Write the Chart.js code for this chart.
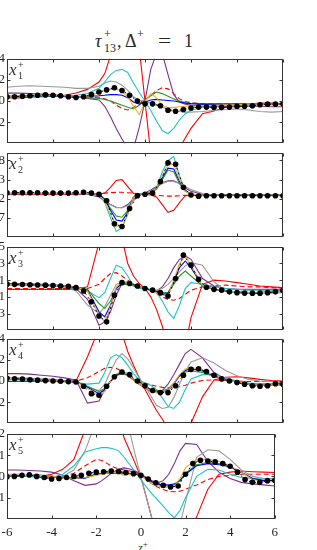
<!DOCTYPE html>
<html>
<head>
<meta charset="utf-8">
<script src="https://cdn.jsdelivr.net/npm/chart.js@4.4.0/dist/chart.umd.min.js"></script>
<style>
html, body { margin: 0; padding: 0; background: #fff; overflow: hidden; width: 317px; height: 550px; }
body { position: relative; font-family: 'Liberation Serif', serif; color: #262626; }
canvas { position: absolute; }
.t { position: absolute; white-space: nowrap; font-family: 'Liberation Serif', serif; color: #262626; }
.big { font-size: 18px; line-height: 18px; top: 32px; }
.sm { font-size: 12px; line-height: 12px; }
#zlabel { position: absolute; left: 138px; top: 538px; font: italic 12px 'Liberation Serif'; line-height: 12px; color: #333; }
</style>
</head>
<body>
<span class="t big" style="left:95px;font-style:italic">τ</span>
<span class="t sm" style="left:104px;top:28px">+</span>
<span class="t sm" style="left:104px;top:42px">13</span>
<span class="t big" style="left:117px">,</span>
<span class="t big" style="left:125px">Δ</span>
<span class="t sm" style="left:137px;top:28px">+</span>
<span class="t big" style="left:158px;transform:scaleX(1.3);transform-origin:left">=</span>
<span class="t big" style="left:184px">1</span>
<div id="zlabel">z<span style="font-size:9px;font-style:normal;vertical-align:5px">+</span></div>
<script>
// z+ grid of the model lines and of the DNS dots
const zLine = [-6, -5.5, -5, -4.5, -4, -3.5, -3, -2.5, -2, -1.75, -1.5, -1.25, -1, -0.75, -0.5, -0.25, 0,
  0.25, 0.5, 0.75, 1, 1.25, 1.5, 1.75, 2, 2.5, 3, 3.5, 4, 4.5, 5, 5.5, 6];
const zDots = [-6, -5.67, -5.33, -5, -4.67, -4.33, -4, -3.67, -3.33, -3, -2.67, -2.33, -2, -1.67, -1.33, -1, -0.67, -0.33,
  0, 0.33, 0.67, 1, 1.33, 1.67, 2, 2.33, 2.67, 3, 3.33, 3.67, 4, 4.33, 4.67, 5, 5.33, 5.67, 6];
const zTicks = [-6, -4, -2, 0, 2, 4, 6];

// panel x1+
const yTicks1 = [4, 2, 0, -2];
const p1Red = [0.3, 0.3, 0.35, 0.4, 0.45, 0.55, 0.75, 1.1, 1.8, 2.6, 4.3, 6, 7.5, 9, 9, 5, 0, -5, -9, -9, -7.5, -6, -4.5, -3.5, -2.6, -1.2, -0.95, -0.6, -0.45, -0.3, -0.2, -0.2, -0.25];
const p1RedDash = [0.45, 0.45, 0.5, 0.5, 0.5, 0.45, 0.4, 0.4, 0.35, 0.2, 0, -0.4, -0.7, -0.85, -0.6, -0.2, 0.1, 0.5, 1.0, 1.25, 1.15, 0.7, 0.2, -0.05, -0.15, -0.25, -0.3, -0.3, -0.3, -0.3, -0.3, -0.3, -0.3];
const p1Purple = [0.75, 0.75, 0.7, 0.65, 0.6, 0.5, 0.4, 0.25, 0.1, -0.5, -1.5, -2.6, -3.6, -4.5, -4.5, -2.5, 0, 3, 4.5, 4.5, 2.5, 0.6, -0.1, -0.3, -0.4, -0.5, -0.55, -0.55, -0.55, -0.5, -0.5, -0.55, -0.55];
const p1Gray = [1.3, 1.4, 1.45, 1.4, 1.35, 1.3, 1.2, 1.2, 1.4, 1.7, 1.9, 1.8, 1.5, 1.0, 0.4, 0.1, 0, -0.2, -0.4, -0.6, -0.75, -0.9, -1.0, -1.05, -1.05, -1.0, -0.9, -0.8, -0.75, -0.85, -1.0, -1.05, -1.0];
const p1Cyan = [0.4, 0.42, 0.45, 0.48, 0.5, 0.5, 0.55, 0.7, 1.2, 1.8, 2.5, 2.9, 3.0, 2.7, 1.7, 0.8, 0, -0.9, -1.9, -2.8, -3.1, -2.6, -1.8, -1.2, -0.9, -0.6, -0.45, -0.4, -0.4, -0.4, -0.35, -0.35, -0.35];
const p1Green = [0.4, 0.4, 0.45, 0.45, 0.45, 0.4, 0.35, 0.3, 0.25, 0.15, 0, -0.2, -0.4, -0.6, -0.75, -0.4, 0.1, 0.5, 0.85, 0.7, 0.45, 0.2, 0, -0.15, -0.25, -0.3, -0.3, -0.3, -0.3, -0.3, -0.3, -0.3, -0.3];
const p1Blue = [0.45, 0.45, 0.5, 0.5, 0.5, 0.45, 0.4, 0.45, 0.5, 0.55, 0.6, 0.6, 0.55, 0.3, -0.1, -0.3, -0.1, 0.1, 0.15, 0.1, 0.05, 0, -0.1, -0.2, -0.25, -0.3, -0.3, -0.3, -0.3, -0.3, -0.3, -0.3, -0.3];
const p1Orange = [0.4, 0.4, 0.5, 0.55, 0.55, 0.5, 0.35, 0.45, 0.8, 1.0, 1.1, 1.15, 0.9, 0.4, -0.5, -1.3, -0.1, 0.7, 0.3, -0.4, -0.65, -0.6, -0.55, -0.5, -0.5, -0.45, -0.4, -0.35, -0.35, -0.3, -0.3, -0.3, -0.3];
const p1Dots = [0.39, 0.4, 0.45, 0.5, 0.55, 0.58, 0.55, 0.5, 0.4, 0.33, 0.4, 0.6, 0.85, 1.05, 1.25, 1.0, 0.55, 0, -0.27, -0.27, -0.45, -0.88, -0.97, -0.8, -0.67, -0.58, -0.58, -0.6, -0.6, -0.58, -0.5, -0.5, -0.45, -0.36, -0.3, -0.3, -0.27];

// panel x2+
const yTicks2 = [0.08, 0.03, -0.02, -0.07];
const p2Red = [-0.008, -0.008, -0.008, -0.008, -0.008, -0.008, -0.008, -0.008, -0.008, -0.005, 0.01, 0.028, 0.03, 0.012, -0.006, -0.008, -0.008, -0.01, -0.015, -0.035, -0.055, -0.05, -0.03, -0.012, -0.01, -0.01, -0.01, -0.01, -0.01, -0.01, -0.01, -0.01, -0.01];
const p2RedDash = [-0.007, -0.007, -0.007, -0.007, -0.007, -0.007, -0.007, -0.007, -0.006, -0.005, -0.004, -0.003, -0.003, -0.004, -0.005, -0.007, -0.008, -0.009, -0.011, -0.012, -0.013, -0.013, -0.012, -0.011, -0.01, -0.01, -0.01, -0.01, -0.01, -0.01, -0.01, -0.01, -0.01];
const p2Purple = [-0.006, -0.006, -0.006, -0.006, -0.006, -0.006, -0.006, -0.008, -0.015, -0.025, -0.035, -0.042, -0.043, -0.035, -0.02, -0.01, -0.005, 0.003, 0.012, 0.022, 0.027, 0.027, 0.02, 0.008, 0, -0.008, -0.01, -0.01, -0.01, -0.01, -0.01, -0.01, -0.01];
const p2Gray = [-0.005, -0.005, -0.005, -0.005, -0.005, -0.005, -0.006, -0.008, -0.012, -0.02, -0.035, -0.043, -0.043, -0.038, -0.025, -0.012, -0.006, 0, 0.01, 0.02, 0.025, 0.025, 0.02, 0.012, 0.004, -0.006, -0.01, -0.01, -0.01, -0.01, -0.01, -0.01, -0.01];
const p2Cyan = [-0.006, -0.006, -0.006, -0.006, -0.006, -0.006, -0.006, -0.006, -0.008, -0.03, -0.07, -0.105, -0.095, -0.06, -0.015, -0.008, -0.006, -0.004, 0.01, 0.05, 0.08, 0.09, 0.04, 0, -0.008, -0.01, -0.01, -0.01, -0.01, -0.01, -0.01, -0.01, -0.01];
const p2Green = [-0.006, -0.006, -0.006, -0.006, -0.006, -0.006, -0.006, -0.006, -0.008, -0.02, -0.045, -0.065, -0.068, -0.05, -0.015, -0.008, -0.006, -0.004, 0.005, 0.03, 0.055, 0.05, 0.02, 0, -0.008, -0.01, -0.01, -0.01, -0.01, -0.01, -0.01, -0.01, -0.01];
const p2Blue = [-0.006, -0.006, -0.006, -0.006, -0.006, -0.006, -0.006, -0.006, -0.008, -0.022, -0.05, -0.075, -0.078, -0.055, -0.015, -0.008, -0.006, -0.004, 0.008, 0.035, 0.06, 0.058, 0.025, 0.002, -0.008, -0.01, -0.01, -0.01, -0.01, -0.01, -0.01, -0.01, -0.01];
const p2Orange = [-0.006, -0.006, -0.006, -0.006, -0.006, -0.006, -0.006, -0.006, -0.008, -0.025, -0.06, -0.09, -0.095, -0.06, -0.015, -0.008, -0.006, -0.004, 0.008, 0.04, 0.068, 0.07, 0.03, 0, -0.008, -0.01, -0.01, -0.01, -0.01, -0.01, -0.01, -0.01, -0.01];
const p2Dots = [-0.004, -0.004, -0.004, -0.004, -0.004, -0.005, -0.005, -0.005, -0.005, -0.004, -0.003, -0.005, -0.008, -0.025, -0.085, -0.092, -0.045, -0.012, -0.008, -0.005, 0.025, 0.074, 0.07, 0.01, -0.01, -0.013, -0.012, -0.012, -0.012, -0.012, -0.012, -0.012, -0.012, -0.012, -0.012, -0.012, -0.012];

// panel x3+
const yTicks3 = [0.5, 0.3, 0.1, -0.1, -0.3];
const p3Red = [-0.01, -0.01, -0.01, -0.01, -0.01, -0.01, -0.01, 0.02, 0.55, 0.9, 1.0, 0.9, 0.6, 0.3, 0.15, 0.06, 0, -0.1, -0.25, -0.45, -0.7, -0.9, -1.0, -0.7, -0.35, 0.05, 0.1, 0.09, 0.07, 0.05, 0.03, 0.02, 0.01];
const p3RedDash = [0, 0, 0, 0, 0, 0, 0, 0, 0.05, 0.12, 0.18, 0.19, 0.15, 0.1, 0.05, 0.02, 0, -0.03, -0.06, -0.1, -0.13, -0.14, -0.12, -0.07, -0.02, 0.02, 0.03, 0.04, 0.03, 0.02, 0.02, 0.01, 0];
const p3Purple = [0.06, 0.06, 0.055, 0.05, 0.04, 0.03, 0, -0.13, -0.44, -0.4, -0.28, -0.08, 0.06, 0.08, 0.05, 0.02, 0, -0.02, -0.03, 0.02, 0.12, 0.25, 0.35, 0.39, 0.35, 0.12, 0.03, 0, -0.01, -0.01, -0.01, -0.01, -0.01];
const p3Gray = [0.04, 0.04, 0.04, 0.035, 0.03, 0.02, -0.03, -0.2, -0.3, -0.22, -0.08, 0.05, 0.08, 0.07, 0.05, 0.02, 0, -0.02, -0.02, 0, 0.05, 0.12, 0.2, 0.27, 0.31, 0.28, 0.08, -0.02, -0.05, -0.06, -0.06, -0.055, -0.05];
const p3Cyan = [0.04, 0.04, 0.04, 0.035, 0.03, 0.02, 0, -0.03, -0.11, -0.05, 0.12, 0.28, 0.25, 0.15, 0.03, 0, 0, -0.01, -0.05, -0.15, -0.28, -0.36, -0.2, 0, 0.07, 0.05, 0.02, 0, -0.01, -0.02, -0.02, -0.02, -0.02];
const p3Green = [0.05, 0.05, 0.045, 0.04, 0.04, 0.03, 0.02, -0.01, -0.18, -0.24, -0.15, 0, 0.05, 0.05, 0.03, 0.02, 0, -0.02, -0.04, -0.05, -0.05, 0.05, 0.15, 0.21, 0.15, 0.03, -0.01, -0.03, -0.04, -0.05, -0.05, -0.04, -0.03];
const p3Blue = [0.05, 0.05, 0.045, 0.04, 0.04, 0.03, 0.02, -0.02, -0.28, -0.34, -0.2, 0, 0.07, 0.06, 0.04, 0.02, 0, -0.02, -0.04, -0.07, -0.06, 0.08, 0.25, 0.33, 0.25, 0.03, -0.01, -0.03, -0.04, -0.05, -0.05, -0.04, -0.03];
const p3Orange = [0.05, 0.05, 0.045, 0.04, 0.04, 0.03, 0.02, -0.03, -0.32, -0.4, -0.22, 0.02, 0.08, 0.06, 0.04, 0.02, 0, -0.02, -0.05, -0.08, -0.09, 0.1, 0.3, 0.39, 0.28, 0.03, -0.01, -0.03, -0.04, -0.05, -0.05, -0.04, -0.03];
const p3Dots = [0.052, 0.05, 0.048, 0.045, 0.042, 0.04, 0.035, 0.03, 0.025, 0.01, -0.03, -0.16, -0.33, -0.4, -0.08, 0.07, 0.06, 0.03, 0, -0.02, -0.05, -0.09, 0.12, 0.4, 0.28, 0.11, 0.015, -0.01, -0.02, -0.04, -0.05, -0.055, -0.056, -0.056, -0.05, -0.04, -0.025];

// panel x4+
const yTicks4 = [4, 2, 0, -2];
const p4Red = [-0.05, -0.05, -0.05, -0.05, -0.05, -0.05, 0, 2.3, 5, 6, 6.5, 6, 4.5, 2.8, 1.5, 0.3, -0.8, -1.8, -2.8, -3.6, -4.5, -5.5, -6, -5.5, -4, -1.5, 0.1, 0.35, 0.4, 0.3, 0.15, 0.05, 0];
const p4RedDash = [-0.05, -0.05, -0.05, -0.05, -0.05, -0.05, 0, 0.3, 0.9, 1.2, 1.3, 1.2, 0.9, 0.5, 0.1, -0.1, -0.2, -0.35, -0.5, -0.6, -0.65, -0.65, -0.55, -0.4, -0.2, 0.05, 0.1, 0.05, 0, -0.05, -0.05, -0.05, -0.1];
const p4Purple = [0.7, 0.7, 0.65, 0.55, 0.45, 0.3, 0.1, -2.1, -1.9, -0.8, -0.06, 0.55, 0.85, 0.7, 0.2, -0.3, -0.7, -1.0, -1.1, -0.9, -0.3, 0.6, 1.6, 2.6, 3.0, 2.2, 0.8, 0.2, -0.1, -0.25, -0.3, -0.35, -0.4];
const p4Gray = [0.3, 0.3, 0.25, 0.2, 0.15, 0.05, -0.1, -0.6, -0.9, -0.3, 0.9, 2.0, 2.6, 2.1, 1.2, 0.3, -0.5, -1.4, -2.3, -2.6, -2.5, -1.6, -0.3, 0.9, 1.8, 2.2, 1.7, 1.0, 0.5, 0.15, 0, -0.05, -0.05];
const p4Cyan = [0.1, 0.1, 0.05, 0, -0.05, -0.1, -0.15, -0.3, -0.2, 0.8, 2.2, 2.5, 2.2, 1.5, 0.7, 0.1, -0.2, -0.4, -0.8, -1.6, -2.4, -2.6, -2.0, -0.8, 0.2, 0.6, 0.6, 0.3, 0, -0.2, -0.25, -0.25, -0.2];
const p4Green = [0.25, 0.2, 0.15, 0.1, 0.05, 0, -0.05, -0.5, -1.0, -0.7, 0, 0.5, 0.7, 0.55, 0.1, -0.3, -0.55, -0.8, -0.9, -0.9, -0.75, -0.2, 0.45, 0.85, 0.95, 0.8, 0.45, 0.1, -0.1, -0.3, -0.4, -0.35, -0.3];
const p4Blue = [0.25, 0.2, 0.15, 0.1, 0.05, 0, -0.05, -0.6, -1.2, -0.8, 0, 0.6, 0.8, 0.6, 0.1, -0.3, -0.6, -0.9, -1.05, -1.05, -0.9, -0.3, 0.5, 1.0, 1.15, 0.95, 0.5, 0.1, -0.1, -0.3, -0.4, -0.35, -0.3];
const p4Orange = [0.25, 0.2, 0.15, 0.1, 0.05, 0, -0.05, -0.7, -1.4, -1.0, 0, 0.7, 0.9, 0.65, 0.1, -0.3, -0.6, -0.95, -1.1, -1.1, -0.9, -0.2, 0.6, 1.15, 1.3, 1.05, 0.55, 0.1, -0.1, -0.3, -0.4, -0.35, -0.3];
const p4Dots = [0.25, 0.22, 0.18, 0.12, 0.08, 0.04, 0, -0.03, -0.06, -0.1, -0.5, -1.2, -1.35, -0.5, 0.4, 0.85, 0.6, 0, -0.45, -0.9, -1.1, -1.1, -0.45, 0.55, 1.1, 1.15, 0.9, 0.55, 0.2, 0, -0.15, -0.3, -0.45, -0.5, -0.45, -0.25, -0.3];

// panel x5+
const yTicks5 = [2, 1, 0, -1];
const p5Red = [0, 0, 0, 0, 0.1, 0.33, 0.8, 2.2, 3.5, 4, 4, 3.8, 2.8, 1.8, 1.2, 0.6, -0.05, -1.0, -2.0, -2.8, -3.4, -3.6, -3.6, -3.2, -2.8, -1.9, -0.6, 0.1, 0.2, 0.25, 0.22, 0.2, 0.18];
const p5RedDash = [0, 0, 0, -0.05, -0.05, 0, 0.15, 0.5, 0.8, 0.75, 0.6, 0.45, 0.35, 0.3, 0.25, 0.2, 0.05, -0.15, -0.35, -0.5, -0.62, -0.7, -0.72, -0.7, -0.6, -0.4, -0.15, 0, 0.05, 0.1, 0.1, 0.1, 0.1];
const p5Purple = [0.3, 0.3, 0.28, 0.25, 0.2, 0.05, -0.2, -0.42, -0.35, -0.2, 0, 0.2, 0.35, 0.4, 0.35, 0.25, 0.1, -0.05, -0.2, -0.3, -0.2, 0.1, 0.6, 1.2, 1.55, 1.5, 0.7, 0.2, -0.1, -0.28, -0.35, -0.4, -0.45];
const p5Gray = [0.1, 0.1, 0.05, 0, -0.05, 0, 0.3, 1.2, 2.6, 3, 3.2, 3.2, 3.0, 2.6, 2.1, 1.0, 0, -1.0, -2.0, -2.8, -3.0, -2.9, -2.6, -2.3, -1.2, 0.9, 1.25, 1.2, 0.8, 0.3, 0, -0.1, -0.1];
const p5Cyan = [0, 0, 0, 0, -0.05, 0.1, 0.5, 1.15, 1.3, 1.35, 1.35, 1.3, 1.2, 0.9, 0.56, 0.2, -0.15, -0.5, -0.82, -1.1, -1.4, -1.7, -1.95, -1.6, -1.0, 0, 0.33, 0.3, 0.1, -0.05, -0.1, -0.12, -0.13];
const p5Green = [0, 0.02, 0.05, 0.05, 0, -0.05, -0.08, -0.06, 0.12, 0.15, 0.18, 0.2, 0.2, 0.18, 0.15, 0.1, 0.05, -0.1, -0.28, -0.38, -0.45, -0.45, -0.4, -0.2, 0.15, 0.55, 0.65, 0.6, 0.45, 0.2, -0.1, -0.2, -0.2];
const p5Blue = [0, 0.02, 0.05, 0.05, 0, -0.05, -0.08, -0.08, 0.1, 0.12, 0.15, 0.15, 0.15, 0.15, 0.12, 0.1, 0.05, -0.1, -0.25, -0.35, -0.4, -0.4, -0.35, -0.2, 0.1, 0.5, 0.6, 0.55, 0.45, 0.2, -0.1, -0.2, -0.2];
const p5Orange = [0, 0.02, 0.05, 0.05, 0, -0.05, -0.1, -0.05, 0.05, 0.1, 0.15, 0.2, 0.15, 0.05, 0.1, 0.1, 0.05, -0.15, -0.35, -0.45, -0.52, -0.5, -0.45, -0.1, 0.4, 0.8, 0.8, 0.7, 0.5, 0.2, -0.15, -0.25, -0.25];
const p5Dots = [-0.02, 0, 0.05, 0.07, 0, -0.05, -0.12, -0.1, -0.05, 0, 0.05, 0.15, 0.2, 0.22, 0.25, 0.23, 0.18, 0.13, 0.05, -0.12, -0.3, -0.42, -0.5, -0.45, 0.1, 0.6, 0.76, 0.72, 0.68, 0.6, 0.48, 0.2, -0.15, -0.28, -0.28, -0.2, -0.18];

// line styles (lower order = drawn on top)
const lineStyles = [
  { name: 'red', color: '#ff0000', dash: [], order: 9 },
  { name: 'redDash', color: '#ff0000', dash: [5, 3], order: 8 },
  { name: 'purple', color: '#7e2f8e', dash: [], order: 7 },
  { name: 'gray', color: '#9a9a9a', dash: [], order: 6 },
  { name: 'cyan', color: '#1cc4c8', dash: [], order: 5 },
  { name: 'green', color: '#2a9a2a', dash: [], order: 4 },
  { name: 'blue', color: '#0000ff', dash: [], order: 3 },
  { name: 'orange', color: '#edb120', dash: [], order: 2 }
];

const panels = [
  { n: 1, top: 57, h: 88, yMin: -4, yMax: 4, yTicks: yTicks1, dots: p1Dots,
    lines: { red: p1Red, redDash: p1RedDash, purple: p1Purple, gray: p1Gray, cyan: p1Cyan, green: p1Green, blue: p1Blue, orange: p1Orange } },
  { n: 2, top: 151, h: 88, yMin: -0.12, yMax: 0.10, yTicks: yTicks2, dots: p2Dots,
    lines: { red: p2Red, redDash: p2RedDash, purple: p2Purple, gray: p2Gray, cyan: p2Cyan, green: p2Green, blue: p2Blue, orange: p2Orange } },
  { n: 3, top: 245, h: 87, yMin: -0.5, yMax: 0.5, yTicks: yTicks3, dots: p3Dots,
    lines: { red: p3Red, redDash: p3RedDash, purple: p3Purple, gray: p3Gray, cyan: p3Cyan, green: p3Green, blue: p3Blue, orange: p3Orange } },
  { n: 4, top: 337, h: 88, yMin: -4, yMax: 4, yTicks: yTicks4, dots: p4Dots,
    lines: { red: p4Red, redDash: p4RedDash, purple: p4Purple, gray: p4Gray, cyan: p4Cyan, green: p4Green, blue: p4Blue, orange: p4Orange } },
  { n: 5, top: 432, h: 87, yMin: -2, yMax: 2, yTicks: yTicks5, dots: p5Dots,
    lines: { red: p5Red, redDash: p5RedDash, purple: p5Purple, gray: p5Gray, cyan: p5Cyan, green: p5Green, blue: p5Blue, orange: p5Orange } }
];

const tickFont = { family: "'Liberation Serif', serif", size: 13 };

// box around the plot, inward ticks, and the x_n+ tag
const framePlugin = {
  id: 'frame',
  afterDraw(chart, args, opts) {
    const { ctx, chartArea: a, scales } = chart;
    const L = Math.round(a.left) + 0.5, R = Math.round(a.right) - 0.5;
    const T = Math.round(a.top) + 0.5, B = Math.round(a.bottom) - 0.5;
    ctx.save();
    ctx.strokeStyle = '#333';
    ctx.lineWidth = 1;
    ctx.strokeRect(L, T, R - L, B - T);
    ctx.beginPath();
    zTicks.forEach(v => {
      const px = Math.round(scales.x.getPixelForValue(v)) + 0.5;
      ctx.moveTo(px, B); ctx.lineTo(px, B - 3);
      ctx.moveTo(px, T); ctx.lineTo(px, T + 3);
    });
    opts.yTicks.forEach(v => {
      const py = Math.round(scales.y.getPixelForValue(v)) + 0.5;
      ctx.moveTo(L, py); ctx.lineTo(L + 3, py);
      ctx.moveTo(R, py); ctx.lineTo(R - 3, py);
    });
    ctx.stroke();

    ctx.fillStyle = '#333';
    ctx.font = 'italic 17px Liberation Serif';
    ctx.fillText('x', a.left + 2, a.top + 16);
    ctx.font = '10px Liberation Serif';
    ctx.fillText('+', a.left + 11, a.top + 9);
    ctx.fillText(String(opts.n), a.left + 11, a.top + 20);
    ctx.restore();
  }
};

function drawPanel(p, last) {
  const padTop = 8;
  const padBot = last ? 0 : 8;
  const axisH = last ? 34 : 0;
  const cv = document.createElement('canvas');
  cv.width = 317;
  cv.height = p.h + padTop + padBot + axisH;
  cv.style.left = '-33px';
  cv.style.top = (p.top - padTop) + 'px';
  document.body.appendChild(cv);

  const datasets = [{
    data: zDots.map((z, i) => ({ x: z, y: p.dots[i] })),
    borderColor: '#000',
    borderWidth: 1,
    borderDash: [2, 3],
    pointRadius: 2.8,
    pointBackgroundColor: '#000',
    pointBorderWidth: 0,
    order: 0
  }];
  lineStyles.forEach(s => {
    const vals = p.lines[s.name];
    datasets.push({
      data: zLine.map((z, i) => ({ x: z, y: vals[i] })),
      borderColor: s.color,
      borderWidth: 1.1,
      borderDash: s.dash,
      pointRadius: 0,
      tension: 0,
      order: s.order
    });
  });

  new Chart(cv, {
    type: 'line',
    data: { datasets },
    options: {
      responsive: false,
      animation: false,
      layout: { autoPadding: false, padding: { top: padTop, bottom: padBot, left: 0, right: 1 } },
      plugins: {
        legend: { display: false },
        tooltip: { enabled: false },
        frame: { n: p.n, yTicks: p.yTicks }
      },
      scales: {
        x: {
          type: 'linear',
          min: -6,
          max: 6,
          display: last,
          afterBuildTicks: s => { s.ticks = zTicks.map(v => ({ value: v })); },
          afterFit: s => { s.height = axisH; },
          grid: { drawOnChartArea: false, drawTicks: false },
          border: { display: false },
          ticks: { font: tickFont, color: '#262626', padding: 6, maxRotation: 0, callback: v => String(v) }
        },
        y: {
          min: p.yMin,
          max: p.yMax,
          afterBuildTicks: s => { s.ticks = p.yTicks.map(v => ({ value: v })); },
          afterFit: s => { s.width = 40; },
          grid: { drawOnChartArea: false, drawTicks: false },
          border: { display: false },
          ticks: { font: tickFont, color: '#262626', padding: 2, callback: v => String(v) }
        }
      }
    },
    plugins: [framePlugin]
  });
}

panels.forEach((p, i) => drawPanel(p, i === panels.length - 1));
</script>
</body>
</html>
